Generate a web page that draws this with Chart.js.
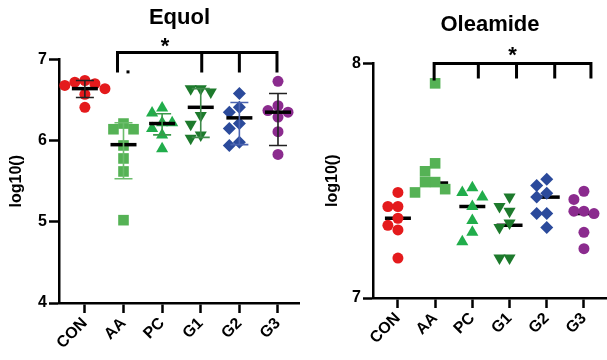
<!DOCTYPE html>
<html><head><meta charset="utf-8">
<script src="https://cdn.jsdelivr.net/npm/chart.js@4"></script>
<style>
body{margin:0;background:#fff}
#wrap{position:relative;width:607px;height:360px}
.pn{position:absolute;top:0;height:360px}
#p1{left:0;width:300px} #p2{left:300px;width:307px}
</style></head><body>
<div id="wrap">
  <div class="pn" id="p1"><canvas id="c1"></canvas></div>
  <div class="pn" id="p2"><canvas id="c2"></canvas></div>
</div>
<script>
const GROUPS = ['CON', 'AA', 'PC', 'G1', 'G2', 'G3'];
const COLORS = ['#e41a1c', '#55b255', '#21ad4b', '#1d7a2c', '#2b4a9b', '#8b2b8e'];
const ERR_COLORS = ['#222', '#6cbd6c', '#3a9a4a', '#3f8a4a', '#4a63b0', '#222'];
const SHAPES = ['circle', 'rect', 'triangle', 'triangle', 'rectRot', 'circle'];
const ROTATION = [0, 0, 0, 180, 0, 0];
const RADII = [5.5, 7.5, 7, 7, 6.5, 5.5];
const FONT = '"Liberation Sans", Arial, sans-serif';

// Equol, log10 values per group
const EQUOL_CON = [6.74, 6.72, 6.70, 6.68, 6.64, 6.57, 6.41];
const EQUOL_AA = [6.21, 6.14, 6.14, 5.94, 5.78, 5.62, 5.02];
const EQUOL_PC = [6.40, 6.34, 6.22, 6.22, 6.15, 6.07, 5.90];
const EQUOL_G1 = [6.64, 6.64, 6.60, 6.31, 6.20, 6.07, 6.03];
const EQUOL_G2 = [6.58, 6.41, 6.35, 6.21, 6.15, 5.98, 5.94];
const EQUOL_G3 = [6.73, 6.43, 6.37, 6.35, 6.29, 6.11, 5.83];
const EQUOL_MED = [6.64, 5.95, 6.21, 6.41, 6.28, 6.35];
const EQUOL_LO = [6.53, 5.53, 6.07, 6.04, 5.95, 5.94];
const EQUOL_HI = [6.74, 6.22, 6.33, 6.64, 6.47, 6.58];
const EQUOL_TICKS = [4, 5, 6, 7];

// Oleamide
const OLEA_CON = [7.45, 7.39, 7.39, 7.34, 7.31, 7.29, 7.17];
const OLEA_AA = [7.915, 7.574, 7.54, 7.494, 7.494, 7.464, 7.45];
const OLEA_PC = [7.47, 7.45, 7.43, 7.39, 7.33, 7.28, 7.24];
const OLEA_G1 = [7.43, 7.39, 7.37, 7.32, 7.30, 7.17, 7.17];
const OLEA_G2 = [7.506, 7.48, 7.447, 7.43, 7.36, 7.36, 7.30];
const OLEA_G3 = [7.455, 7.42, 7.37, 7.37, 7.36, 7.28, 7.21];
const OLEA_MED = [7.34, 7.49, 7.39, 7.31, 7.43, 7.36];
const OLEA_TICKS = [7, 8];

// simple beeswarm: spread points sideways when they would overlap
function swarm(vals, yTol, step) {
  const order = vals.map((v, i) => i).sort((a, b) => vals[b] - vals[a]);
  const placed = [], off = vals.map(() => 0);
  for (const i of order) {
    for (let k = 0; k < 9; k++) {
      const o = (k % 2 ? -1 : 1) * Math.ceil(k / 2) * step;
      const hit = placed.some(p => ((p.x - o) / step) ** 2 + ((p.y - vals[i]) / yTol) ** 2 < 0.98);
      if (!hit) { off[i] = o; placed.push({ x: o, y: vals[i] }); break; }
    }
  }
  return off;
}

function groupSets(groups, yTol, step, pointOrder) {
  return groups.map((vals, gi) => {
    const off = swarm(vals, yTol, step);
    return {
      data: vals.map((v, j) => ({ x: gi + off[j], y: v })),
      pointStyle: SHAPES[gi], rotation: ROTATION[gi], pointRadius: RADII[gi],
      backgroundColor: COLORS[gi], borderColor: COLORS[gi], borderWidth: 0,
      order: pointOrder, clip: false,
    };
  });
}

function medianSet(med, order) {
  return {
    data: med.map((v, i) => ({ x: i, y: v })),
    pointStyle: 'line', pointRadius: 13, borderWidth: 3.5, borderColor: '#000',
    backgroundColor: '#000', order, clip: false,
  };
}

const extras = {
  id: 'extras',
  afterDatasetsDraw(chart, args, o) {
    const { ctx, chartArea: ca, scales: { x, y } } = chart;
    ctx.save();
    if (o.lo) {
      ctx.lineWidth = 1.6;
      o.lo.forEach((lo, i) => {
        const px = x.getPixelForValue(i), p1 = y.getPixelForValue(lo), p2 = y.getPixelForValue(o.hi[i]);
        ctx.strokeStyle = ERR_COLORS[i];
        ctx.beginPath();
        ctx.moveTo(px, p1); ctx.lineTo(px, p2);
        ctx.moveTo(px - 9, p1); ctx.lineTo(px + 9, p1);
        ctx.moveTo(px - 9, p2); ctx.lineTo(px + 9, p2);
        ctx.stroke();
      });
    }
    // significance bracket
    const b = o.bracket;
    const top = ca.top + b.y;
    const xs = b.drops.map(d => x.getPixelForValue(d[0]) + d[1]);
    ctx.strokeStyle = '#000'; ctx.lineWidth = 3; ctx.lineCap = 'butt';
    ctx.beginPath();
    ctx.moveTo(xs[0] - 1.5, top); ctx.lineTo(xs[xs.length - 1] + 1.5, top);
    xs.forEach((px, i) => { ctx.moveTo(px, top); ctx.lineTo(px, ca.top + b.drops[i][2]); });
    ctx.stroke();
    if (b.stub) {
      ctx.fillStyle = '#000';
      ctx.fillRect(x.getPixelForValue(b.stub[0]) + b.stub[1], ca.top + b.stub[2], 3, 3);
    }
    ctx.fillStyle = '#000';
    ctx.font = `bold 22px ${FONT}`;
    ctx.textAlign = 'center'; ctx.textBaseline = 'alphabetic';
    ctx.fillText('*', x.getPixelForValue(b.star[0]) + b.star[1], ca.top + b.star[2] + 12.8);
    ctx.restore();
  },
};

function makeChart(id, cfg) {
  return new Chart(document.getElementById(id), {
    type: 'scatter',
    data: { datasets: cfg.datasets },
    plugins: [extras],
    options: {
      animation: false, responsive: true, maintainAspectRatio: false, devicePixelRatio: 1,
      layout: { autoPadding: false, padding: 0 },
      plugins: {
        legend: { display: false }, tooltip: { enabled: false },
        title: {
          display: true, text: cfg.title, color: '#000', fullSize: false,
          font: { family: FONT, size: 22, weight: 'bold' }, padding: cfg.titlePad,
        },
        extras: cfg.extras,
      },
      scales: {
        x: {
          type: 'linear', min: -0.67, max: cfg.xMax, bounds: 'data',
          afterBuildTicks: s => {
            s.ticks = GROUPS.map((_, i) => ({ value: i }));
            s.min = -0.67; s.max = cfg.xMax;
          },
          afterFit: s => { s.height = cfg.xHeight; s.paddingLeft = 0; s.paddingRight = 0; },
          ticks: {
            callback: (v, i) => GROUPS[i], autoSkip: false, minRotation: 45, maxRotation: 45,
            color: '#000', padding: 1, font: { family: FONT, size: 16, weight: 'bold' },
          },
          grid: { drawOnChartArea: false, tickLength: 10, tickWidth: 2.5, color: '#000' },
          border: { color: '#000', width: 2.5 },
        },
        y: {
          min: cfg.ticks[0], max: cfg.ticks[cfg.ticks.length - 1],
          afterBuildTicks: s => { s.ticks = cfg.ticks.map(v => ({ value: v })); },
          afterFit: s => { s.width = cfg.yWidth; s.paddingTop = 0; s.paddingBottom = 0; },
          ticks: { color: '#000', padding: 2, font: { family: FONT, size: 16, weight: 'bold' } },
          grid: { drawOnChartArea: false, tickLength: 10, tickWidth: 2.5, color: '#000' },
          border: { color: '#000', width: 2.5 },
          title: {
            display: true, text: 'log10()', color: '#000', padding: { top: cfg.yTitlePad, bottom: 0 },
            font: { family: FONT, size: 16, weight: 'bold' },
          },
        },
      },
    },
  });
}

makeChart('c1', {
  title: 'Equol', titlePad: { top: 5, bottom: 28 }, ticks: EQUOL_TICKS,
  xMax: 5.57, xHeight: 57, yWidth: 59, yTitlePad: 7,
  datasets: [medianSet(EQUOL_MED, 0),
    ...groupSets([EQUOL_CON, EQUOL_AA, EQUOL_PC, EQUOL_G1, EQUOL_G2, EQUOL_G3], 0.13, 0.26, 1)],
  extras: {
    lo: EQUOL_LO, hi: EQUOL_HI,
    bracket: { y: -7, drops: [[1, -6, 13], [3, 1, 13], [4, 0, 13], [5, -1, 13]], stub: [1, 3, 11], star: [2, 3, -19] },
  },
});

makeChart('c2', {
  title: 'Oleamide', titlePad: { top: 12, bottom: 25 }, ticks: OLEA_TICKS,
  xMax: 5.62, xHeight: 62, yWidth: 73, yTitlePad: 23,
  datasets: [medianSet(OLEA_MED, 2),
    ...groupSets([OLEA_CON, OLEA_AA, OLEA_PC, OLEA_G1, OLEA_G2, OLEA_G3], 0.045, 0.27, 1)],
  extras: {
    bracket: { y: 0, drops: [[1, -1, 17], [2, 6, 15], [3, 7, 15], [4, 8, 15], [5, 7, 15]], star: [3, 3, -14] },
  },
});
</script>
</body></html>
